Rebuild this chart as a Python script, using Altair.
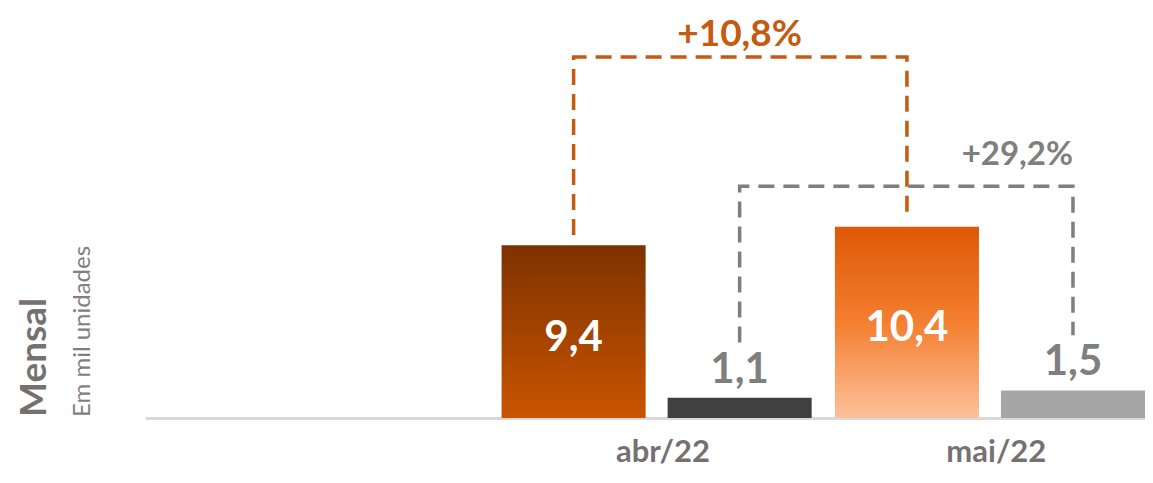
import altair as alt
import pandas as pd

# ---------------- data ----------------
MONTHS = ["abr/22", "mai/22"]
SERIES = ["laranja", "cinza"]
ORANGE_VALUES = [9.4, 10.4]
GRAY_VALUES = [1.1, 1.5]
CHANGE_LABELS = ["+10,8%", "+29,2%"]
TITLE = "Mensal"
SUBTITLE = "Em mil unidades"

FONT = "Lato"
ORANGE = "#C55A11"
GRAY = "#7F7F7F"

bars = pd.DataFrame({
    "month": MONTHS + MONTHS,
    "series": ["laranja"] * 2 + ["cinza"] * 2,
    "value": ORANGE_VALUES + GRAY_VALUES,
})
bars["label"] = bars["value"].map(lambda v: f"{v:.1f}".replace(".", ","))
bars["half"] = bars["value"] / 2

# bracket layout (in y-axis units)
ORANGE_TOP, ORANGE_GAP = 19.63, 0.55
GRAY_TOP, GRAY_GAP = 12.6, 3.0


def bracket(series, values, top, gap):
    return pd.DataFrame({
        "month": [MONTHS[0], MONTHS[0], MONTHS[1], MONTHS[1]],
        "series": [series] * 4,
        "y": [values[0] + gap, top, top, values[1] + gap],
        "order": [0, 1, 2, 3],
    })


orange_bracket = bracket("laranja", ORANGE_VALUES, ORANGE_TOP, ORANGE_GAP)
gray_bracket = bracket("cinza", GRAY_VALUES, GRAY_TOP, GRAY_GAP)

orange_change = pd.DataFrame({"month": [MONTHS[0]], "series": ["cinza"],
                              "y": [ORANGE_TOP + 0.58], "text": [CHANGE_LABELS[0]]})
gray_change = pd.DataFrame({"month": [MONTHS[1]], "series": ["cinza"],
                            "y": [GRAY_TOP + 1.16], "text": [CHANGE_LABELS[1]]})

# ---------------- encodings ----------------
x_enc = alt.X(
    "month:N",
    scale=alt.Scale(domain=[""] + MONTHS, paddingInner=0, paddingOuter=0),
    axis=alt.Axis(
        title=None, ticks=False, labelAngle=0, labelFont=FONT, labelFontSize=31,
        labelFontWeight="bold", labelColor="#767171", labelPadding=19, labelOffset=18,
        domainColor="#D9D9D9", domainWidth=3, grid=False,
    ),
)
xo_enc = alt.XOffset(
    "series:N",
    scale=alt.Scale(domain=SERIES, paddingInner=0.1325, paddingOuter=0.07, align=1),
)
y_scale = alt.Scale(domain=[0, 22.3], nice=False, zero=True)


def Y(field):
    return alt.Y(field, scale=y_scale, axis=None)


grad_abr = alt.Gradient(
    gradient="linear",
    stops=[alt.GradientStop(color="#7E3200", offset=0),
           alt.GradientStop(color="#C95400", offset=1)],
    x1=0, x2=0, y1=0, y2=1,
)
grad_mai = alt.Gradient(
    gradient="linear",
    stops=[alt.GradientStop(color="#DE5806", offset=0),
           alt.GradientStop(color="#F47F30", offset=0.5),
           alt.GradientStop(color="#FCC09A", offset=1)],
    x1=0, x2=0, y1=0, y2=1,
)

base = alt.Chart(bars)

bar_abr = base.transform_filter(
    (alt.datum.series == "laranja") & (alt.datum.month == MONTHS[0])
).mark_bar(color=grad_abr).encode(x=x_enc, xOffset=xo_enc, y=Y("value:Q"))

bar_mai = base.transform_filter(
    (alt.datum.series == "laranja") & (alt.datum.month == MONTHS[1])
).mark_bar(color=grad_mai).encode(x=x_enc, xOffset=xo_enc, y=Y("value:Q"))

bar_gray = base.transform_filter(alt.datum.series == "cinza").mark_bar().encode(
    x=x_enc, xOffset=xo_enc, y=Y("value:Q"),
    color=alt.Color("month:N", scale=alt.Scale(domain=MONTHS, range=["#404040", "#A6A6A6"]),
                    legend=None),
)

label_in = base.transform_filter(alt.datum.series == "laranja").mark_text(
    font=FONT, fontSize=42, fontWeight="bold", color="white", baseline="middle", dy=6
).encode(x=x_enc, xOffset=xo_enc, y=Y("half:Q"), text="label:N")

label_out = base.transform_filter(alt.datum.series == "cinza").mark_text(
    font=FONT, fontSize=42, fontWeight="bold", color=GRAY, baseline="alphabetic", dy=-15
).encode(x=x_enc, xOffset=xo_enc, y=Y("value:Q"), text="label:N")

line_orange = alt.Chart(orange_bracket).mark_line(
    color=ORANGE, strokeWidth=3.5, strokeDash=[16, 9]
).encode(x=x_enc, xOffset=xo_enc, y=Y("y:Q"), order="order:Q")

line_gray = alt.Chart(gray_bracket).mark_line(
    color=GRAY, strokeWidth=3.5, strokeDash=[16, 9]
).encode(x=x_enc, xOffset=xo_enc, y=Y("y:Q"), order="order:Q")

change_orange = alt.Chart(orange_change).mark_text(
    font=FONT, fontSize=37, fontWeight="bold", color=ORANGE, baseline="alphabetic", align="center"
).encode(x=x_enc, xOffset=xo_enc, y=Y("y:Q"), text="text:N")

change_gray = alt.Chart(gray_change).mark_text(
    font=FONT, fontSize=33, fontWeight="bold", color=GRAY, baseline="alphabetic",
    align="right", dx=0
).encode(x=x_enc, xOffset=xo_enc, y=Y("y:Q"), text="text:N")

title_txt = alt.Chart(pd.DataFrame({"t": [TITLE]})).mark_text(
    font=FONT, fontSize=37, fontWeight="bold", color="#767171", angle=270,
    align="left", baseline="alphabetic"
).encode(x=alt.value(-99), y=alt.value(409), text="t:N")

sub_txt = alt.Chart(pd.DataFrame({"t": [SUBTITLE]})).mark_text(
    font=FONT, fontSize=24, color=GRAY, angle=270, align="left", baseline="alphabetic"
).encode(x=alt.value(-55), y=alt.value(409), text="t:N")

chart = alt.layer(
    bar_abr, bar_mai, bar_gray, label_in, label_out,
    line_orange, line_gray, change_orange, change_gray, title_txt, sub_txt,
).properties(
    width=1000, height=410,
    autosize=alt.AutoSizeParams(type="none"),
    padding={"left": 137, "top": 0, "right": 0, "bottom": 52},
).configure_view(stroke=None)

chart.save("out.html", embed_options={"renderer": "svg", "actions": False})
